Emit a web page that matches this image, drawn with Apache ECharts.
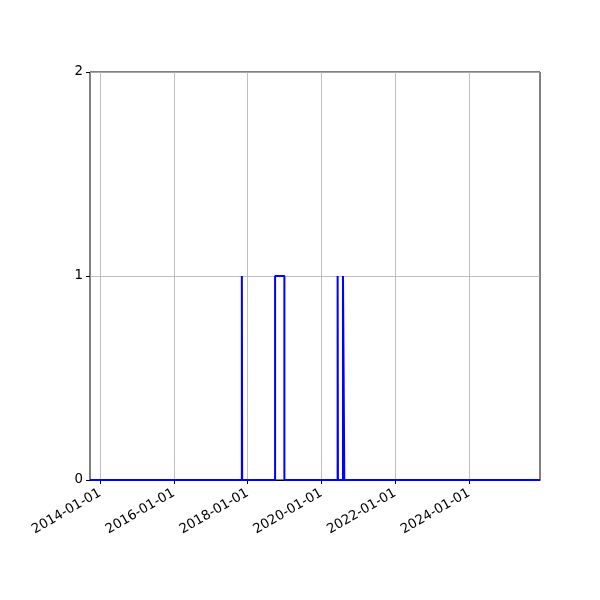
<!DOCTYPE html>
<html>
  <head>
    <meta charset="utf-8" />
    <title>ECharts</title>
    <script src="https://cdn.jsdelivr.net/npm/echarts@6/dist/echarts.min.js"></script>
  </head>
  <body style="margin:0">
    <div id="main" style="width: 600px;height:600px;"></div>
    <script type="text/javascript">
      // step series: value holds from its date until the next date
      var dates = ['2013-09-24', '2017-11-05', '2017-11-08', '2018-09-30', '2018-12-31',
                   '2020-06-10', '2020-06-13', '2020-08-02', '2020-08-15', '2025-12-04'];
      var values = [0, 1, 0, 1, 0, 1, 0, 1, 0, 0];
      var tickDates = ['2014-01-01', '2016-01-01', '2018-01-01', '2020-01-01', '2022-01-01', '2024-01-01'];
      var yTicks = [0, 1, 2];

      function ts(s) {
        var p = s.split('-');
        return Date.UTC(+p[0], +p[1] - 1, +p[2]);
      }
      function pad(n) { return (n < 10 ? '0' : '') + n; }
      function fmt(v) {
        var d = new Date(v);
        return d.getUTCFullYear() + '-' + pad(d.getUTCMonth() + 1) + '-' + pad(d.getUTCDate());
      }

      var points = dates.map(function (d, i) { return [ts(d), values[i]]; });
      var tickVals = tickDates.map(ts);

      var myChart = echarts.init(document.getElementById('main'));
      myChart.setOption({
        animation: false,
        textStyle: { fontFamily: 'DejaVu Sans' },
        grid: {
          left: 90, right: 60, top: 72, bottom: 120,
          show: true, borderColor: '#000', borderWidth: 1
        },
        xAxis: {
          type: 'value',
          min: ts(dates[0]),
          max: ts(dates[dates.length - 1]),
          axisLine: { onZero: false, lineStyle: { color: '#000', width: 1 } },
          axisTick: { customValues: tickVals, length: 4, lineStyle: { color: '#000' } },
          axisLabel: {
            customValues: tickVals,
            formatter: function (v) { return fmt(v); },
            rotate: 30, color: '#000', fontSize: 13.3, margin: 12
          },
          splitLine: { show: true, lineStyle: { color: '#b0b0b0', width: 0.8 } }
        },
        yAxis: {
          type: 'value',
          min: yTicks[0], max: yTicks[yTicks.length - 1], interval: 1,
          axisLine: { show: false },
          axisTick: { show: true, length: 4, lineStyle: { color: '#000' } },
          axisLabel: { color: '#000', fontSize: 13.3, margin: 7 },
          splitLine: { show: true, lineStyle: { color: '#b0b0b0', width: 0.8 } }
        },
        series: [
          {
            type: 'line',
            step: 'end',
            data: points,
            showSymbol: false,
            lineStyle: { color: '#0000ff', width: 2 }
          }
        ]
      });
    </script>
  </body>
</html>
